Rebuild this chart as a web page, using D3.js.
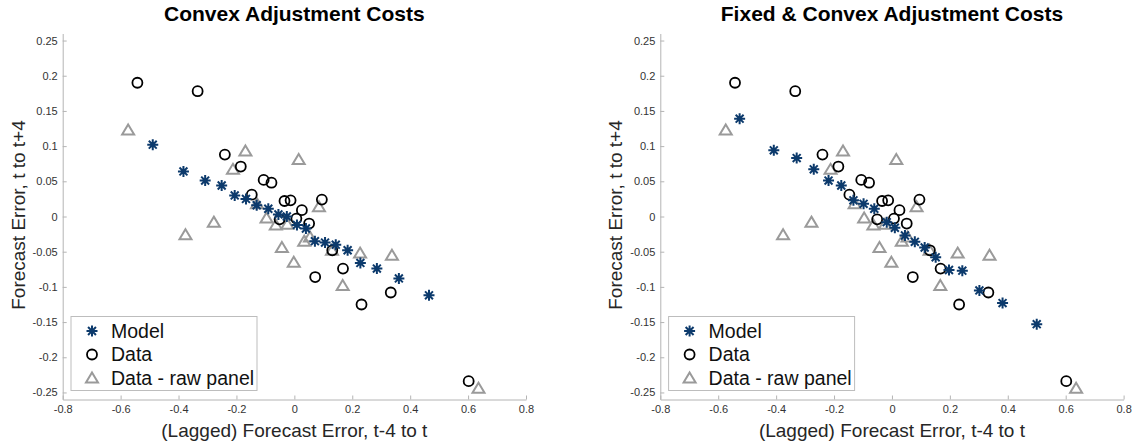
<!DOCTYPE html>
<html>
<head>
<meta charset="utf-8">
<script src="https://cdn.jsdelivr.net/npm/d3@7"></script>
<style>
  body { margin: 0; background: #fff; }
  text { font-family: "Liberation Sans", Helvetica, Arial, sans-serif; }
</style>
</head>
<body>
<div id="chart_area"></div>
<script>
// data: [lagged forecast error, forecast error]
const modelConvex = [
  [-0.489, 0.102], [-0.383, 0.064], [-0.308, 0.051], [-0.251, 0.044], [-0.206, 0.030],
  [-0.167, 0.025], [-0.130, 0.016], [-0.090, 0.011], [-0.055, 0.003], [-0.026, 0.000],
  [0.009, -0.012], [0.040, -0.017], [0.071, -0.035], [0.106, -0.037], [0.143, -0.040],
  [0.184, -0.048], [0.228, -0.066], [0.285, -0.074], [0.361, -0.088], [0.465, -0.112]
];
const modelFixed = [
  [-0.526, 0.139], [-0.408, 0.094], [-0.329, 0.083], [-0.270, 0.067], [-0.219, 0.051],
  [-0.175, 0.044], [-0.133, 0.023], [-0.098, 0.018], [-0.061, 0.011], [-0.018, -0.008],
  [0.010, -0.016], [0.045, -0.027], [0.079, -0.036], [0.113, -0.044], [0.151, -0.058],
  [0.197, -0.076], [0.243, -0.077], [0.302, -0.105], [0.382, -0.123], [0.500, -0.153]
];
const dataPts = [
  [-0.542, 0.190], [-0.334, 0.178], [-0.240, 0.088], [-0.185, 0.071], [-0.106, 0.052],
  [-0.079, 0.048], [-0.147, 0.031], [-0.034, 0.022], [-0.013, 0.023], [0.095, 0.024],
  [0.026, 0.009], [-0.051, -0.004], [0.007, -0.003], [0.051, -0.010], [0.131, -0.048],
  [0.168, -0.074], [0.072, -0.086], [0.232, -0.125], [0.333, -0.108], [0.602, -0.234]
];
const rawPts = [
  [-0.574, 0.123], [-0.169, 0.093], [-0.212, 0.067], [0.015, 0.081], [-0.278, -0.008],
  [-0.376, -0.026], [0.085, 0.014], [-0.129, 0.018], [-0.096, -0.002], [-0.064, -0.012],
  [-0.024, -0.011], [0.034, -0.035], [0.054, -0.029], [-0.043, -0.044], [-0.002, -0.065],
  [0.130, -0.048], [0.227, -0.052], [0.337, -0.055], [0.167, -0.098], [0.636, -0.244]
];
const xTicks = [-0.8, -0.6, -0.4, -0.2, 0, 0.2, 0.4, 0.6, 0.8];
const yTicks = [-0.25, -0.2, -0.15, -0.1, -0.05, 0, 0.05, 0.1, 0.15, 0.2, 0.25];
const legendNames = ["Model", "Data", "Data - raw panel"];

const width = 1132, height = 444;
const navy = "#0c3a6c", rawGray = "#9a9a9a", axisGray = "#b4b4b4";

const svg = d3.select("#chart_area")
  .append("svg")
  .attr("width", width)
  .attr("height", height);

const panels = [
  { title: "Convex Adjustment Costs", model: modelConvex, left: 62.7, right: 526 },
  { title: "Fixed & Convex Adjustment Costs", model: modelFixed, left: 660.3, right: 1123.6 }
];

const fmt = d => String(+d.toFixed(2));

// asterisk marker: + and x on top of each other
function star(g, r) {
  const d = r * 0.72;
  g.append("path")
    .attr("d", `M${-r},0H${r}M0,${-r}V${r}M${-d},${-d}L${d},${d}M${-d},${d}L${d},${-d}`)
    .attr("stroke", navy)
    .attr("stroke-width", 2)
    .attr("fill", "none");
}
function circle(g) {
  g.append("circle")
    .attr("r", 5)
    .attr("fill", "none")
    .attr("stroke", "#000")
    .attr("stroke-width", 1.8);
}
function triangle(g) {
  g.append("path")
    .attr("d", "M0,-5.5L6,4.5L-6,4.5Z")
    .attr("fill", "none")
    .attr("stroke", rawGray)
    .attr("stroke-width", 2);
}

panels.forEach(p => {
  const x = d3.scaleLinear().domain([-0.8, 0.8]).range([p.left, p.right]);
  const y = d3.scaleLinear().domain([-0.26, 0.26]).range([399.5, 33.5]);
  const cx = (p.left + p.right) / 2;

  // axes (ticks point inward, like matlab)
  const xAxis = svg.append("g")
    .attr("transform", `translate(0,${y(-0.26)})`)
    .call(d3.axisBottom(x).tickValues(xTicks).tickFormat(fmt).tickSizeInner(-4).tickSizeOuter(0).tickPadding(6));
  const yAxis = svg.append("g")
    .attr("transform", `translate(${p.left},0)`)
    .call(d3.axisLeft(y).tickValues(yTicks).tickFormat(fmt).tickSizeInner(-4).tickSizeOuter(0).tickPadding(5));
  [xAxis, yAxis].forEach(a => {
    a.select(".domain").attr("stroke", axisGray);
    a.selectAll(".tick line").attr("stroke", axisGray);
    a.selectAll(".tick text")
      .attr("fill", "#333")
      .style("font-size", "11px")
      .style("font-family", "'Liberation Sans', Helvetica, Arial, sans-serif");
  });

  // raw panel triangles first, then data, then model on top
  svg.append("g").selectAll("g")
    .data(rawPts)
    .join("g")
    .attr("transform", d => `translate(${x(d[0])},${y(d[1])})`)
    .each(function () { triangle(d3.select(this)); });

  svg.append("g").selectAll("g")
    .data(dataPts)
    .join("g")
    .attr("transform", d => `translate(${x(d[0])},${y(d[1])})`)
    .each(function () { circle(d3.select(this)); });

  svg.append("g").selectAll("g")
    .data(p.model)
    .join("g")
    .attr("transform", d => `translate(${x(d[0])},${y(d[1])})`)
    .each(function () { star(d3.select(this), 5.5); });

  // title
  svg.append("text")
    .attr("x", cx)
    .attr("y", 21)
    .style("text-anchor", "middle")
    .style("font-weight", "bold")
    .style("font-size", "21px")
    .text(p.title);

  // text label for the x axis
  svg.append("text")
    .attr("x", cx)
    .attr("y", 437)
    .style("text-anchor", "middle")
    .style("font-size", "19px")
    .style("fill", "#262626")
    .text("(Lagged) Forecast Error, t-4 to t");

  // text label for the y axis
  svg.append("text")
    .attr("transform", `translate(${p.left - 38},215) rotate(-90)`)
    .style("text-anchor", "middle")
    .style("font-size", "19px")
    .style("fill", "#262626")
    .text("Forecast Error, t to t+4");

  // legend
  const lg = svg.append("g").attr("transform", `translate(${p.left + 8.3},316.5)`);
  lg.append("rect")
    .attr("width", 186)
    .attr("height", 74)
    .attr("fill", "#fff")
    .attr("stroke", "#bdbdbd")
    .attr("stroke-width", 1);
  const drawers = [g => star(g, 5.5), circle, triangle];
  legendNames.forEach((name, i) => {
    const row = lg.append("g").attr("transform", `translate(0,${14.5 + i * 23.5})`);
    drawers[i](row.append("g").attr("transform", "translate(21,0)"));
    row.append("text")
      .attr("x", 40)
      .attr("dy", "0.35em")
      .style("font-size", "19.5px")
      .style("fill", "#111")
      .text(name);
  });
});
</script>
</body>
</html>
